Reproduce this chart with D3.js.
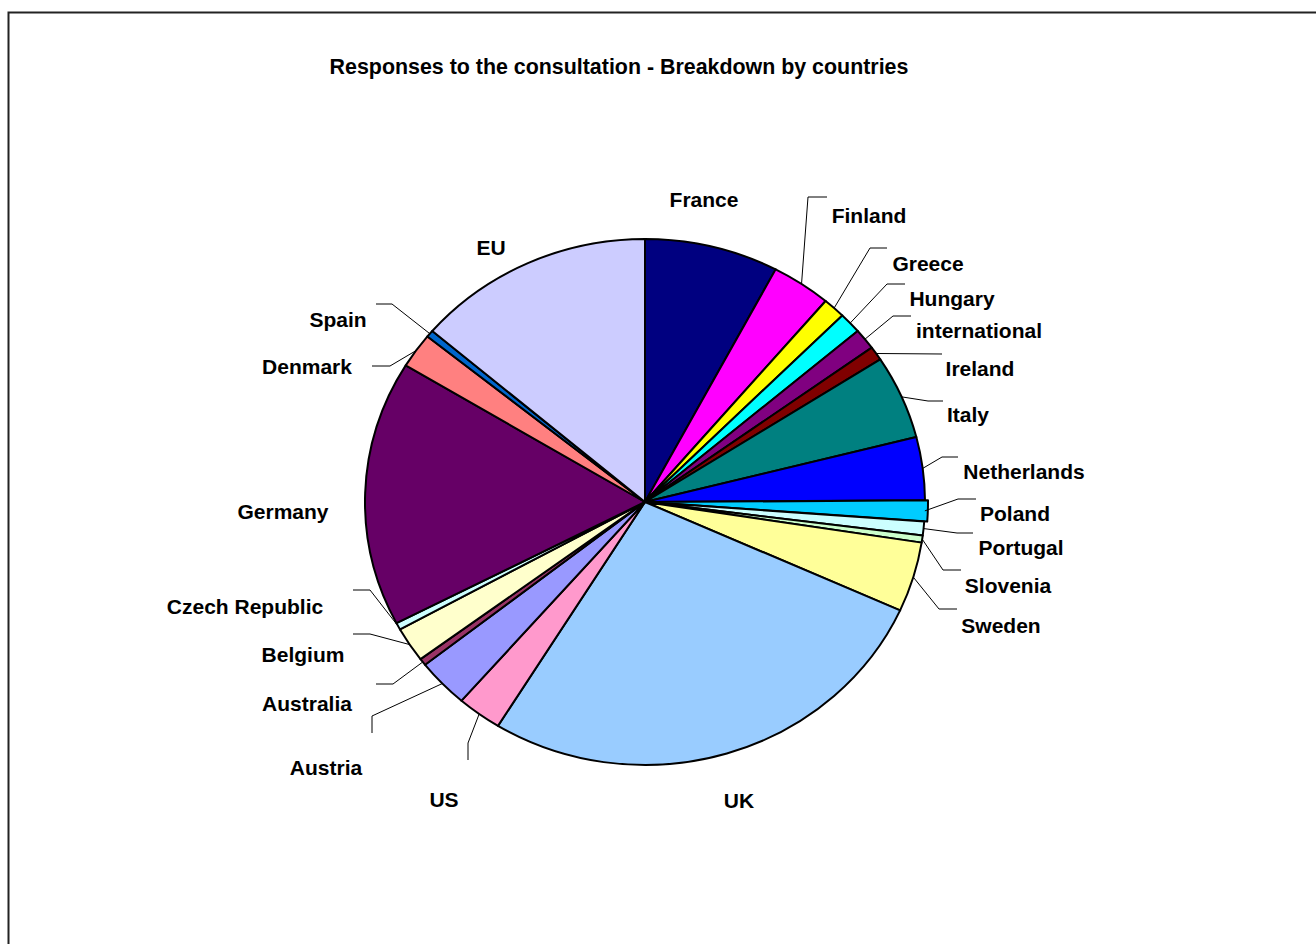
<!DOCTYPE html>
<html>
<head>
<meta charset="utf-8">
<script src="https://cdn.jsdelivr.net/npm/d3@7"></script>
<style>
  body { margin: 0; background: #fff; }
  text { font-family: "Liberation Sans", Arial, sans-serif; font-weight: bold; fill: #000; }
</style>
</head>
<body>
<div id="chart"></div>
<script>
var countries = ["France", "Finland", "Greece", "Hungary", "international", "Ireland", "Italy",
  "Netherlands", "Poland", "Portugal", "Slovenia", "Sweden", "UK", "US", "Austria", "Australia",
  "Belgium", "Czech Republic", "Germany", "Denmark", "Spain", "EU"];
var responses = [18, 8, 3, 3, 3, 2, 12, 9, 3, 2, 1, 10, 63, 6, 7, 1, 5, 1, 38, 5, 1, 32];
var colors = ["#000080", "#ff00ff", "#ffff00", "#00ffff", "#800080", "#800000", "#008080",
  "#0000ff", "#00ccff", "#ccffff", "#ccffcc", "#ffff99", "#99ccff", "#ff99cc", "#9999ff", "#993366",
  "#ffffcc", "#ccffff", "#660066", "#ff8080", "#0066cc", "#ccccff"];
var title = "Responses to the consultation - Breakdown by countries";

// label placement: text centre x, baseline y, leader bends (empty = no leader)
var labelPos = {
  "France": [704, 207, []],
  "Finland": [869, 223, [[808, 197], [827, 197]]],
  "Greece": [928, 271, [[870, 248], [887, 248]]],
  "Hungary": [952, 306, [[887, 284], [905, 284]]],
  "international": [979, 338, [[893, 316], [911, 316]]],
  "Ireland": [980, 376, [[942, 354]]],
  "Italy": [968, 422, [[928, 401], [943, 401]]],
  "Netherlands": [1024, 479, [[942, 457], [958, 457]]],
  "Poland": [1015, 521, [[958, 499], [976, 499]]],
  "Portugal": [1021, 555, [[957, 533], [973, 533]]],
  "Slovenia": [1008, 593, [[943, 570], [961, 570]]],
  "Sweden": [1001, 633, [[939, 609], [957, 609]]],
  "UK": [739, 808, []],
  "US": [444, 807, [[468, 743], [468, 760]]],
  "Austria": [326, 775, [[372, 716], [372, 733]]],
  "Australia": [307, 711, [[393, 684], [376, 684]]],
  "Belgium": [303, 662, [[370, 634], [353, 634]]],
  "Czech Republic": [245, 614, [[370, 590], [353, 590]]],
  "Germany": [283, 519, []],
  "Denmark": [307, 374, [[390, 366], [372, 366]]],
  "Spain": [338, 327, [[392, 304], [376, 304]]],
  "EU": [491, 255, []]
};

var W = 1316, H = 944;
var cx = 645, cy = 502, rx = 280, ry = 263;
var sx = rx / ry;

var svg = d3.select("#chart").append("svg")
  .attr("width", W)
  .attr("height", H);

svg.append("rect")
  .attr("x", 8.5).attr("y", 12.5)
  .attr("width", W + 20).attr("height", H + 20)
  .attr("fill", "#fff")
  .attr("stroke", "#222")
  .attr("stroke-width", 2);

svg.append("text")
  .attr("x", 619).attr("y", 74)
  .attr("text-anchor", "middle")
  .style("font-size", "21.4px")
  .text(title);

var data = countries.map(function(c, i) { return {name: c, value: responses[i], color: colors[i]}; });

var pie = d3.pie()
  .sort(null)
  .value(function(d) { return d.value; });

var arcs = pie(data);

var arc = d3.arc().innerRadius(0).outerRadius(ry);
var edge = d3.arc().innerRadius(ry).outerRadius(ry);

var g = svg.append("g")
  .attr("transform", "translate(" + cx + "," + cy + ") scale(" + sx + ",1)");

g.selectAll("path")
  .data(arcs)
  .enter().append("path")
  .attr("d", arc)
  .attr("fill", function(d) { return d.data.color; })
  .attr("stroke", "#000")
  .attr("stroke-width", 2)
  .attr("stroke-linejoin", "round")
  .attr("vector-effect", "non-scaling-stroke")
  .attr("transform", function(d) {
    // Poland sticks out a touch
    if (d.data.name != "Poland") return null;
    var a = (d.startAngle + d.endAngle) / 2;
    return "translate(" + (3 * Math.sin(a) / sx) + "," + (-3 * Math.cos(a)) + ")";
  });

// leader lines
var line = d3.line();
arcs.forEach(function(d) {
  var p = labelPos[d.data.name];
  if (!p[2].length) return;
  var c = edge.centroid(d);
  var pts = [[cx + c[0] * sx, cy + c[1]]].concat(p[2]);
  svg.append("path")
    .attr("d", line(pts))
    .attr("fill", "none")
    .attr("stroke", "#000")
    .attr("stroke-width", 1);
});

svg.selectAll(".lbl")
  .data(arcs)
  .enter().append("text")
  .attr("class", "lbl")
  .attr("x", function(d) { return labelPos[d.data.name][0]; })
  .attr("y", function(d) { return labelPos[d.data.name][1]; })
  .attr("text-anchor", "middle")
  .style("font-size", "21px")
  .text(function(d) { return d.data.name; });
</script>
</body>
</html>
